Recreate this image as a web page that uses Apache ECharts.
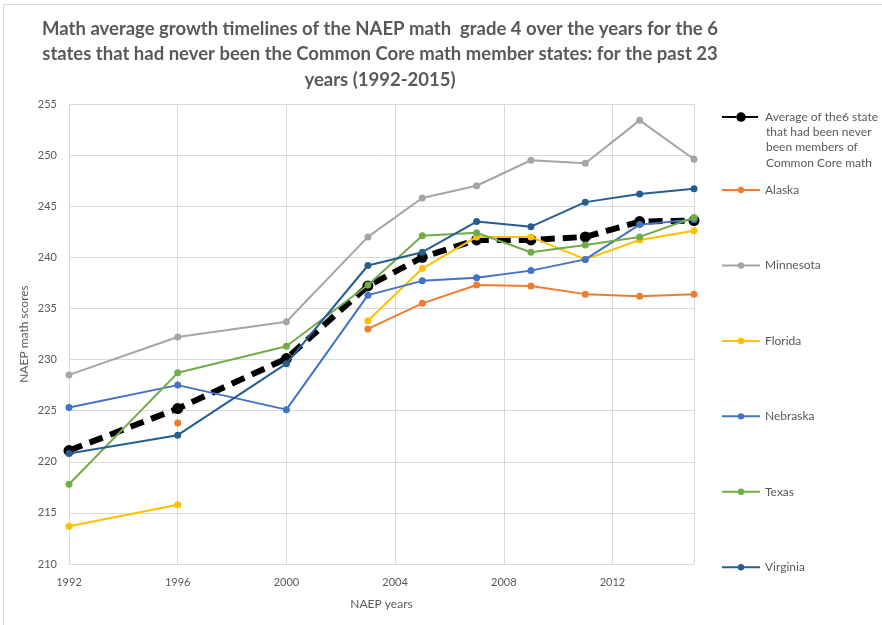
<!DOCTYPE html>
<html>
<head>
  <script src="https://cdn.jsdelivr.net/npm/echarts@6.0.0/dist/echarts.min.js"></script>
  <style>
    body {
      margin: 0;
      padding: 0;
      background-color: white;
    }
    #main {
      width: 882px;
      height: 625px;
    }
  </style>
  <title>NAEP math grade 4</title>
</head>
<body>
<div id="main"></div>
<script>
  // NAEP test years
  var years = [1992, 1996, 2000, 2003, 2005, 2007, 2009, 2011, 2013, 2015];

  var average = [221.1, 225.2, 230.1, 237.2, 240.0, 241.7, 241.7, 242.0, 243.5, 243.6];
  var alaska = [null, 223.8, null, 233.0, 235.5, 237.3, 237.2, 236.4, 236.2, 236.4];
  var minnesota = [228.5, 232.2, 233.7, 242.0, 245.8, 247.0, 249.5, 249.2, 253.4, 249.6];
  var florida = [213.7, 215.8, null, 233.8, 238.9, 242.0, 242.0, 239.8, 241.7, 242.6];
  var nebraska = [225.3, 227.5, 225.1, 236.3, 237.7, 238.0, 238.7, 239.8, 243.2, 243.7];
  var texas = [217.8, 228.7, 231.3, 237.3, 242.1, 242.4, 240.5, 241.2, 242.0, 243.9];
  var virginia = [220.8, 222.6, 229.6, 239.2, 240.5, 243.5, 243.0, 245.4, 246.2, 246.7];

  var avgName = 'Average of the6 states that had been never been members of Common Core math';
  var stateNames = ['Alaska', 'Minnesota', 'Florida', 'Nebraska', 'Texas', 'Virginia'];
  var stateValues = [alaska, minnesota, florida, nebraska, texas, virginia];
  var stateColors = ['#ED7D31', '#A5A5A5', '#FFC000', '#4472C4', '#70AD47', '#255E91'];

  var font = 'Lato';

  function pairs(vals) {
    return years.map(function (y, i) { return [y, vals[i]]; });
  }

  var series = [{
    name: avgName,
    type: 'line',
    data: pairs(average),
    symbol: 'circle',
    symbolSize: 11,
    color: '#000',
    lineStyle: { width: 6, type: [14, 8], color: '#000' },
    itemStyle: { color: '#000' },
    z: 1
  }];

  for (var i = 0; i < stateNames.length; i++) {
    series.push({
      name: stateNames[i],
      type: 'line',
      data: pairs(stateValues[i]),
      symbol: 'circle',
      symbolSize: 7,
      color: stateColors[i],
      lineStyle: { width: 2, color: stateColors[i] },
      itemStyle: { color: stateColors[i] },
      z: 2 + i
    });
  }

  var myChart = echarts.init(document.getElementById('main'));

  myChart.setOption({
    animation: false,
    textStyle: { fontFamily: font },
    title: {
      text: 'Math average growth timelines of the NAEP math  grade 4 over the years for the 6\nstates that had never been the Common Core math member states: for the past 23\nyears (1992-2015)',
      left: 375,
      top: 11,
      textAlign: 'center',
      textStyle: {
        fontFamily: font,
        fontSize: 18.5,
        fontWeight: 'bold',
        color: '#595959',
        lineHeight: 25.5
      }
    },
    graphic: [{
      type: 'rect',
      shape: { x: 3.5, y: 4.5, width: 900, height: 640 },
      style: { fill: 'none', stroke: '#d9d9d9', lineWidth: 1 },
      silent: true
    }, {
      type: 'text',
      left: 766,
      top: 123,
      style: {
        text: 'that had been never\nbeen members of\nCommon Core math',
        font: '12px ' + font,
        fill: '#595959',
        lineHeight: 15.5
      },
      silent: true
    }],
    legend: [{
      data: [avgName],
      orient: 'vertical',
      left: 716,
      top: 103,
      itemWidth: 38,
      itemHeight: 12,
      formatter: function () {
        return 'Average of the6 state';
      },
      textStyle: {
        fontFamily: font,
        fontSize: 12,
        color: '#595959'
      }
    }, {
      data: stateNames,
      orient: 'vertical',
      left: 716,
      top: 176,
      itemWidth: 38,
      itemHeight: 8,
      itemGap: 57.4,
      textStyle: {
        fontFamily: font,
        fontSize: 12,
        color: '#595959',
        lineHeight: 16
      }
    }],
    grid: {
      left: 69,
      right: 188,
      top: 104,
      bottom: 61,
      containLabel: false
    },
    xAxis: {
      type: 'value',
      min: 1992,
      max: 2015,
      interval: 4,
      name: 'NAEP years',
      nameLocation: 'middle',
      nameGap: 26,
      nameTextStyle: { fontFamily: font, fontSize: 12, color: '#595959' },
      axisLine: { show: true, lineStyle: { color: '#d9d9d9' } },
      axisTick: { show: false },
      axisLabel: {
        fontFamily: font,
        fontSize: 11,
        color: '#595959',
        margin: 10,
        formatter: function (v) { return v === 2015 ? '' : String(v); }
      },
      splitLine: { show: true, lineStyle: { color: '#d9d9d9' } }
    },
    yAxis: {
      type: 'value',
      min: 210,
      max: 255,
      interval: 5,
      name: 'NAEP math scores',
      nameLocation: 'middle',
      nameGap: 36,
      nameMoveOverlap: false,
      nameTextStyle: { fontFamily: font, fontSize: 12, color: '#595959' },
      axisLine: { show: false },
      axisTick: { show: false },
      axisLabel: {
        fontFamily: font,
        fontSize: 11,
        color: '#595959',
        margin: 12
      },
      splitLine: { show: true, lineStyle: { color: '#d9d9d9' } }
    },
    series: series
  });
</script>
</body>
</html>
